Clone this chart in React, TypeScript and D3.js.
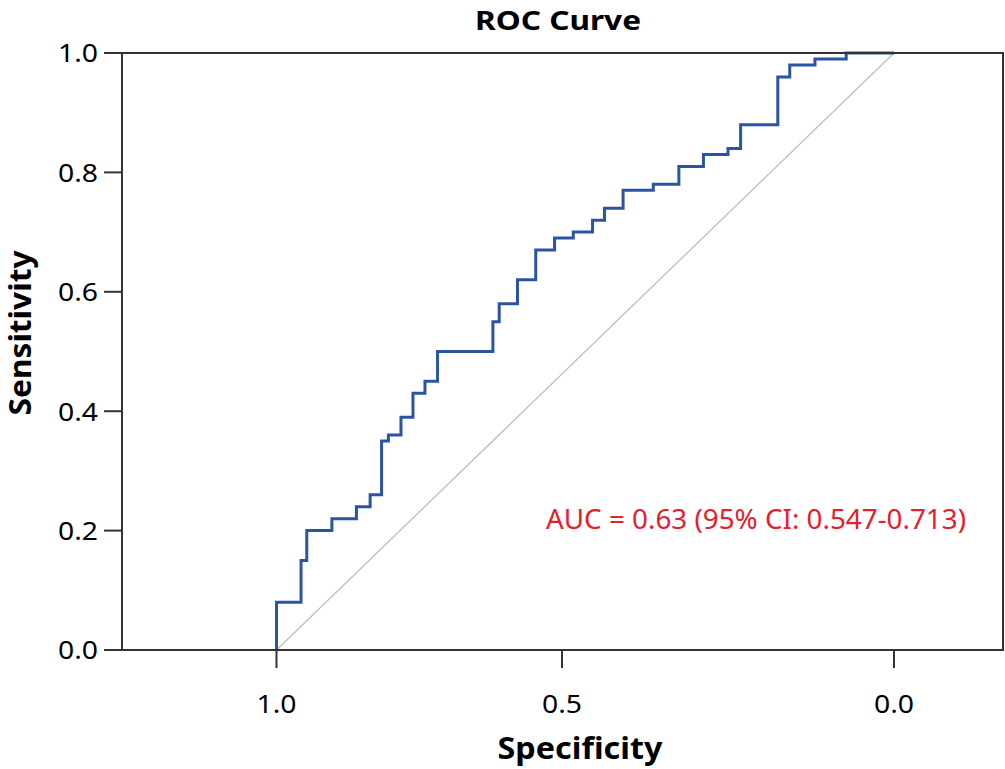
import * as d3 from 'd3';

// ROC operating points, listed from specificity 1 down to 0
const specificity = [1.0, 1.0, 0.957, 0.947, 0.903, 0.860, 0.836, 0.816, 0.804, 0.782, 0.761, 0.740, 0.718, 0.621, 0.610, 0.578, 0.546, 0.513, 0.483, 0.454, 0.436, 0.408, 0.3625, 0.324, 0.287, 0.250, 0.231, 0.175, 0.157, 0.119, 0.072, 0.0];
const sensitivity = [0, 0.08, 0.15, 0.20, 0.22, 0.24, 0.26, 0.35, 0.36, 0.39, 0.43, 0.45, 0.50, 0.55, 0.58, 0.62, 0.67, 0.69, 0.70, 0.72, 0.74, 0.77, 0.78, 0.81, 0.83, 0.84, 0.88, 0.96, 0.98, 0.99, 1.00, 1.00];

const xTicks = [1.0, 0.5, 0.0];
const yTicks = [0.0, 0.2, 0.4, 0.6, 0.8, 1.0];

const aucLabel = "AUC = 0.63 (95% CI: 0.547-0.713)";

const W = 1005;
const H = 769;
const frame = { left: 122, right: 1003, top: 53, bottom: 650 };
const font = "'Noto Sans', sans-serif";

const App = () => {
    const x = d3.scaleLinear().domain([1, 0.5, 0]).range([276.5, 562, 894]);
    const y = d3.scaleLinear().domain([0, 1]).range([frame.bottom, frame.top]);

    const points = specificity.map((s, i) => [s, sensitivity[i]] as [number, number]);
    const line = d3.line<[number, number]>()
        .x(d => x(d[0]))
        .y(d => y(d[1]))
        .curve(d3.curveStepAfter);

    return (
        <svg width={W} height={H} style={{ position: 'absolute', left: 0, top: 0, background: '#fff' }}>
            <text x={558} y={30} textAnchor="middle" fontFamily={font} fontWeight="bold" fontSize={27}
                textLength={166} lengthAdjust="spacingAndGlyphs">ROC Curve</text>

            {/* reference diagonal */}
            <line x1={x(1)} y1={y(0)} x2={x(0)} y2={y(1)} stroke="#bdbdbd" strokeWidth={1.3} />

            <path d={line(points) || ''} fill="none" stroke="#2b55a3" strokeWidth={3} />

            <rect x={frame.left} y={frame.top} width={frame.right - frame.left} height={frame.bottom - frame.top}
                fill="none" stroke="#333" strokeWidth={2} />

            {yTicks.map(t => (
                <g key={t} transform={`translate(0, ${y(t)})`}>
                    <line x1={104} x2={frame.left} stroke="#333" strokeWidth={2} />
                    <text x={98} dy="0.36em" textAnchor="end" fontFamily={font} fontSize={26}
                        textLength={40} lengthAdjust="spacingAndGlyphs">{t.toFixed(1)}</text>
                </g>
            ))}

            {xTicks.map(t => (
                <g key={t} transform={`translate(${x(t)}, 0)`}>
                    <line y1={frame.bottom} y2={668} stroke="#333" strokeWidth={2} />
                    <text y={713} textAnchor="middle" fontFamily={font} fontSize={26}
                        textLength={40} lengthAdjust="spacingAndGlyphs">{t.toFixed(1)}</text>
                </g>
            ))}

            <text x={580} y={759} textAnchor="middle" fontFamily={font} fontWeight="bold" fontSize={30}
                textLength={165} lengthAdjust="spacingAndGlyphs">Specificity</text>
            <text transform={`translate(31, 333) rotate(-90)`} textAnchor="middle" fontFamily={font} fontWeight="bold" fontSize={30}
                textLength={165} lengthAdjust="spacingAndGlyphs">Sensitivity</text>

            <text x={546} y={529} fontFamily={font} fontSize={27} fill="#e3202b"
                textLength={420} lengthAdjust="spacingAndGlyphs">{aucLabel}</text>
        </svg>
    );
};

export default App;
